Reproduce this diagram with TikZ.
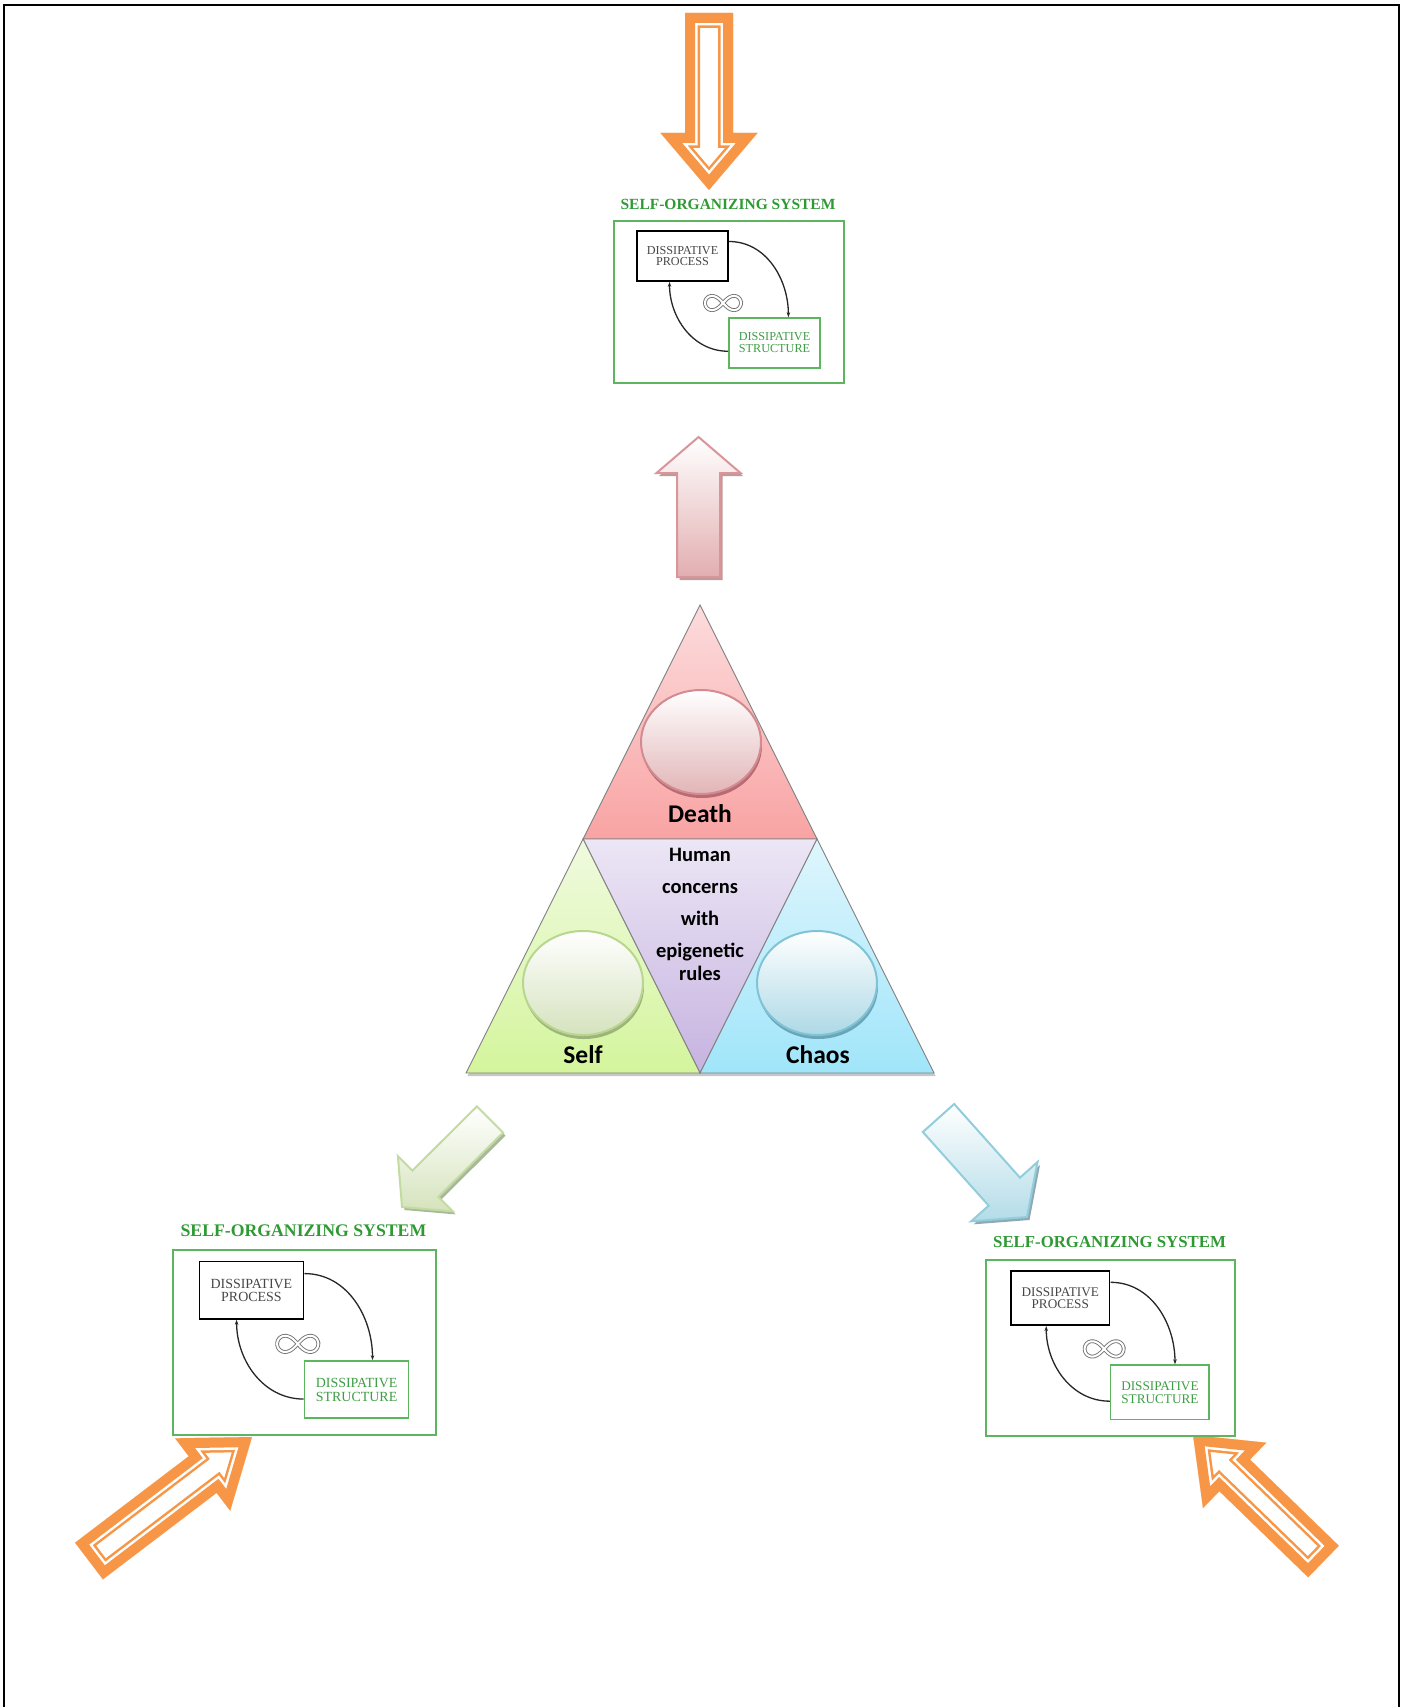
\documentclass[tikz,border=0pt]{standalone}
\usepackage{fontspec}
\setmainfont{Liberation Serif}
\newfontfamily\calib{Carlito}
\usetikzlibrary{calc,arrows.meta,shapes.geometric}

\definecolor{orng}{HTML}{F79646}
\definecolor{tgreen}{HTML}{2F9A34}
\definecolor{bgreen}{HTML}{5DB65F}
\definecolor{sgreen}{HTML}{3E9E45}
\definecolor{deathT}{HTML}{FCDCDD}
\definecolor{deathB}{HTML}{F9A3A3}
\definecolor{midT}{HTML}{ECE6F5}
\definecolor{midB}{HTML}{C6B3E0}
\definecolor{selfT}{HTML}{F0FADF}
\definecolor{selfB}{HTML}{D4F59C}
\definecolor{chaosT}{HTML}{DFF6FD}
\definecolor{chaosB}{HTML}{A0E5FA}
\definecolor{deathE}{HTML}{E2B5B7}
\definecolor{deathR}{HTML}{D48A90}
\definecolor{deathS}{HTML}{B86B72}
\definecolor{selfE}{HTML}{D5E2BE}
\definecolor{selfR}{HTML}{B9D68F}
\definecolor{selfS}{HTML}{9DB57A}
\definecolor{chaosE}{HTML}{ADD9E6}
\definecolor{chaosR}{HTML}{80C3D6}
\definecolor{chaosS}{HTML}{6AA6B8}
\definecolor{pinkF}{HTML}{E2AEB0}
\definecolor{pinkR}{HTML}{D9959A}
\definecolor{pinkS}{HTML}{BF9A9C}
\definecolor{grnF}{HTML}{D5E3BC}
\definecolor{grnR}{HTML}{C3DBA1}
\definecolor{grnS}{HTML}{A9B79A}
\definecolor{bluF}{HTML}{B3DCE8}
\definecolor{bluR}{HTML}{92CDDC}
\definecolor{bluS}{HTML}{8FA9B3}

% name, tail, tip, half shaft width, half head width, head length
\newcommand\mkarrow[6]{%
  \coordinate (#1-T) at #2;
  \coordinate (#1-P) at #3;
  \coordinate (#1-N) at ($(#1-P)!#6!(#1-T)$);
  \coordinate (#1-t1) at ($(#1-T)!#4!90:(#1-P)$);
  \coordinate (#1-t2) at ($(#1-T)!#4!-90:(#1-P)$);
  \coordinate (#1-n1) at ($(#1-N)!#4!90:(#1-P)$);
  \coordinate (#1-n2) at ($(#1-N)!#4!-90:(#1-P)$);
  \coordinate (#1-h1) at ($(#1-N)!#5!90:(#1-P)$);
  \coordinate (#1-h2) at ($(#1-N)!#5!-90:(#1-P)$);
}

\newcommand\hollowarrow[1]{%
  \begin{scope}
    \clip (#1-t1) -- (#1-n1) -- (#1-h1) -- (#1-P) -- (#1-h2) -- (#1-n2) -- (#1-t2) -- cycle;
    \fill[white] (#1-t1) -- (#1-n1) -- (#1-h1) -- (#1-P) -- (#1-h2) -- (#1-n2) -- (#1-t2) -- cycle;
    \draw[orng, line width=30] (#1-t1) -- (#1-n1) -- (#1-h1) -- (#1-P) -- (#1-h2) -- (#1-n2) -- (#1-t2) -- cycle;
    \draw[white, line width=25] (#1-t1) -- (#1-n1) -- (#1-h1) -- (#1-P) -- (#1-h2) -- (#1-n2) -- (#1-t2) -- cycle;
    \draw[orng, line width=20] (#1-t1) -- (#1-n1) -- (#1-h1) -- (#1-P) -- (#1-h2) -- (#1-n2) -- (#1-t2) -- cycle;
  \end{scope}}

% name, bottom colour, rim colour, shadow colour
\newcommand\softarrow[4]{%
  \fill[#4, transform canvas={xshift=2.5pt,yshift=-3pt}] (#1-t1) -- (#1-n1) -- (#1-h1) -- (#1-P) -- (#1-h2) -- (#1-n2) -- (#1-t2) -- cycle;
  \path[draw=#3, line width=2, top color=white, bottom color=#2] (#1-t1) -- (#1-n1) -- (#1-h1) -- (#1-P) -- (#1-h2) -- (#1-n2) -- (#1-t2) -- cycle;
}

% prefix, x, y, scale
\newcommand\sosys[4]{%
\begin{scope}[shift={(#2,#3)}, scale=#4, transform shape]
  \node[draw=bgreen, line width=2, minimum width=230, minimum height=162, anchor=north west, inner sep=0] (#1box) at (0,0) {};
  \node[text=tgreen, font=\fontsize{15.5}{18}\selectfont\bfseries, inner sep=0] (#1title) at (115,-16) {SELF-ORGANIZING SYSTEM};
  \node[draw=black, line width=1.8, minimum width=91, minimum height=50, inner sep=0, align=center, text=black!72, font=\fontsize{12.2}{11.5}\selectfont] (#1p) at (69.5,36) {DISSIPATIVE\\PROCESS};
  \node[draw=bgreen, line width=1.6, minimum width=91, minimum height=50, inner sep=0, align=center, text=sgreen, font=\fontsize{12.2}{12}\selectfont] (#1s) at (161.5,123) {DISSIPATIVE\\STRUCTURE};
  \draw[black!55, line width=0.9, double=white, double distance=2] plot[domain=0:360, samples=90] ({110+18*cos(\x)/(1+sin(\x)*sin(\x))}, {83+20*sin(\x)*cos(\x)/(1+sin(\x)*sin(\x))}) -- cycle;
  \draw[-{Stealth[length=5,width=3.5]}, line width=1.3, black!85] ($(#1p.north east)!0.22!(#1p.south east)$) to[out=0,in=90] ($(#1s.north west)!0.65!(#1s.north east)$);
  \draw[-{Stealth[length=5,width=3.5]}, line width=1.3, black!85] ($(#1s.north west)!0.66!(#1s.south west)$) to[out=180,in=-90] ($(#1p.south west)!0.36!(#1p.south east)$);
\end{scope}}

\begin{document}
\begin{tikzpicture}[x=1pt, y=-1pt]
\useasboundingbox (0,0) rectangle (1405,1707);
\fill[white] (0,0) rectangle (1405,1707);

% outer frame (open at the bottom)
\draw[line width=2.5] (4,1707) -- (4,5) -- (1399,5) -- (1399,1707);

% orange hollow arrows
\mkarrow{oa}{(709,13)}{(709,190)}{24pt}{48.5pt}{57pt}
\hollowarrow{oa}
\mkarrow{ob}{(89,1561)}{(252,1437)}{23pt}{45.5pt}{62pt}
\hollowarrow{ob}
\mkarrow{oc}{(1323.5,1561.5)}{(1193,1435)}{22pt}{45.5pt}{58pt}
\hollowarrow{oc}

% self-organizing systems
\sosys{a}{613}{220}{1}
\sosys{b}{172}{1249}{1.143}
\sosys{c}{985}{1259}{1.083}

% soft arrows
\mkarrow{pa}{(698.5,577)}{(698.5,437)}{21.5pt}{42pt}{36pt}
\softarrow{pa}{pinkF}{pinkR}{pinkS}
\mkarrow{ga}{(490,1119.5)}{(402,1207)}{18.5pt}{39pt}{33pt}
\softarrow{ga}{grnF}{grnR}{grnS}
\mkarrow{ba}{(938.5,1118)}{(1027,1217)}{21pt}{44.5pt}{34pt}
\softarrow{ba}{bluF}{bluR}{bluS}

% triangle
\coordinate (A) at (700,605);
\coordinate (B) at (466,1073);
\coordinate (C) at (934,1073);
\coordinate (MAB) at (583,839);
\coordinate (MAC) at (817,839);
\coordinate (MBC) at (700,1073);
\fill[black!22, transform canvas={xshift=1.5pt,yshift=-3pt}] (A) -- (B) -- (C) -- cycle;
\path[draw=black!50, line width=0.9, top color=deathT, bottom color=deathB] (A) -- (MAB) -- (MAC) -- cycle;
\path[draw=black!50, line width=0.9, top color=midT, bottom color=midB] (MAB) -- (MAC) -- (MBC) -- cycle;
\path[draw=black!50, line width=0.9, top color=selfT, bottom color=selfB] (MAB) -- (MBC) -- (B) -- cycle;
\path[draw=black!50, line width=0.9, top color=chaosT, bottom color=chaosB] (MAC) -- (C) -- (MBC) -- cycle;

% ellipses
\fill[deathS] (702,746) ellipse [x radius=60, y radius=52];
\node[ellipse, minimum width=120, minimum height=104, inner sep=0, draw=deathR, line width=2, top color=white, bottom color=deathE] (edeath) at (701,742) {};
\fill[selfS] (584,987) ellipse [x radius=60, y radius=52];
\node[ellipse, minimum width=120, minimum height=104, inner sep=0, draw=selfR, line width=2, top color=white, bottom color=selfE] (eself) at (583,983) {};
\fill[chaosS] (818,987) ellipse [x radius=60, y radius=52];
\node[ellipse, minimum width=120, minimum height=104, inner sep=0, draw=chaosR, line width=2, top color=white, bottom color=chaosE] (echaos) at (817,983) {};

% labels
\node[font=\calib\bfseries\fontsize{25.5}{30}\selectfont, inner sep=0] (ldeath) at (700,814) {Death};
\node[font=\calib\bfseries\fontsize{25.5}{30}\selectfont, inner sep=0] (lself) at (583,1055) {Self};
\node[font=\calib\bfseries\fontsize{25.5}{30}\selectfont, inner sep=0] (lchaos) at (818,1055) {Chaos};
\node[font=\calib\bfseries\fontsize{20.5}{32}\selectfont, align=center, anchor=north, inner sep=0] (lhuman) at (700,848) {Human\\concerns\\with\\epigenetic\\[-9pt]rules};
\end{tikzpicture}
\end{document}
